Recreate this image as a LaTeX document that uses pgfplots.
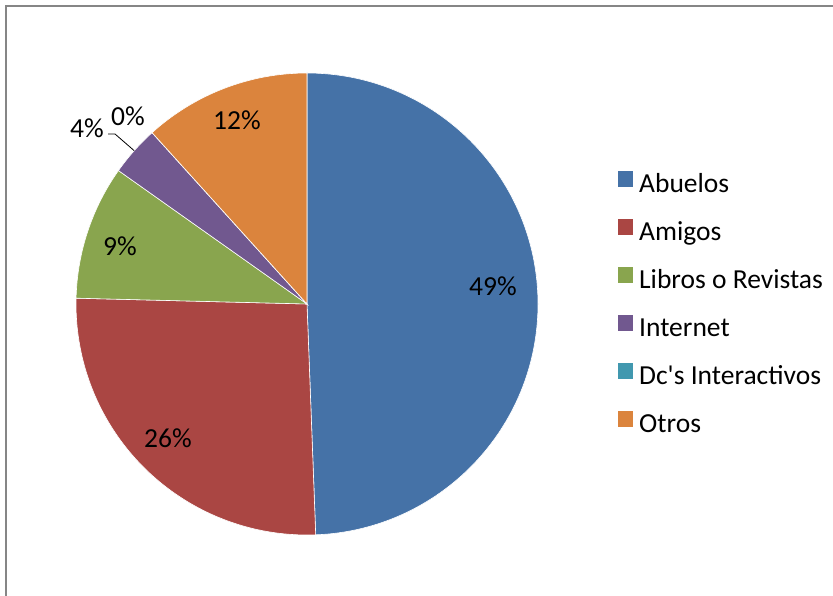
\documentclass[border=0pt]{standalone}
\usepackage{fontspec}
\setmainfont{Carlito}
\usepackage{pgfplots}
\usepackage{pgfplotstable}
\pgfplotsset{compat=1.18}
\usetikzlibrary{calc}
\definecolor{abuelos}{HTML}{4572A7}
\definecolor{amigos}{HTML}{AA4643}
\definecolor{libros}{HTML}{89A54E}
\definecolor{internet}{HTML}{71588F}
\definecolor{dcs}{HTML}{4198AF}
\definecolor{otros}{HTML}{DB843D}
\definecolor{frame}{HTML}{868686}
\newcommand\cf{\fontsize{27.5bp}{32bp}\selectfont}

% value = share of the circle, pct = printed label, lx/ly = label centre (picture px, y down)
\pgfplotstableread[col sep=comma]{
value,pct,lx,ly,leader,color
49.4,49,493,286,0,abuelos
26.0,26,168,438,0,amigos
9.4,9,120,246,0,libros
3.5,4,87,128,1,internet
0,0,128,116,0,dcs
11.7,12,237,120,0,otros
}\piedata

\begin{document}
\begin{tikzpicture}
\useasboundingbox (0,0) rectangle (833bp,596bp);
\begin{axis}[at={(0,0)}, anchor=south west, scale only axis,
  width=833bp, height=596bp, xmin=0, xmax=833, ymin=0, ymax=596,
  hide axis, clip=false,
  legend style={at={(axis cs:615,427)}, anchor=north west, draw=none, fill=none,
    font=\cf, column sep=6bp, row sep=20.5bp,
    nodes={inner sep=0pt, text height=18bp, text depth=6bp}},
  legend cell align=left,
  legend image code/.code={\fill[#1] (0bp,0bp) rectangle (15bp,15.5bp);}]
\addlegendimage{fill=abuelos, draw=none}\addlegendentry{Abuelos}
\addlegendimage{fill=amigos, draw=none}\addlegendentry{Amigos}
\addlegendimage{fill=libros, draw=none}\addlegendentry{Libros o Revistas}
\addlegendimage{fill=internet, draw=none}\addlegendentry{Internet}
\addlegendimage{fill=dcs, draw=none}\addlegendentry{Dc\textquotesingle s Interactivos}
\addlegendimage{fill=otros, draw=none}\addlegendentry{Otros}
\pgfplotsextra{
  \xdef\angA{90}
  \pgfplotstablegetrowsof{\piedata}
  \pgfmathtruncatemacro\lastrow{\pgfplotsretval-1}
  \foreach \i in {0,...,\lastrow}{
    \pgfplotstablegetelem{\i}{value}\of\piedata\let\val\pgfplotsretval
    \pgfplotstablegetelem{\i}{color}\of\piedata\let\col\pgfplotsretval
    \pgfmathsetmacro\angB{\angA-3.6*\val}
    \pgfmathsetmacro\angM{(\angA+\angB)/2}
    \fill[fill=\col, draw=white, line width=0.6bp] (axis cs:307,292) -- ++(\angA:231bp)
      arc[start angle=\angA, end angle=\angB, radius=231bp] -- cycle;
    \pgfplotstablegetelem{\i}{pct}\of\piedata\let\pct\pgfplotsretval
    \pgfplotstablegetelem{\i}{lx}\of\piedata\let\lx\pgfplotsretval
    \pgfplotstablegetelem{\i}{ly}\of\piedata\pgfmathsetmacro\ly{596-\pgfplotsretval}
    \pgfplotstablegetelem{\i}{leader}\of\piedata\let\lead\pgfplotsretval
    \node[font=\cf, inner sep=0pt] at (axis cs:\lx,\ly) {\pct\%};
    \ifnum\lead=1
      \draw[black, line width=0.8bp] (axis cs:\lx+21,\ly-6) -- (axis cs:\lx+28,\ly-6)
        -- ($(axis cs:307,292)+(\angM:231bp)$);
    \fi
    \xdef\angA{\angB}
  }
}
\end{axis}
\draw[frame, line width=1.6bp] (6bp,-20bp) -- (6bp,590bp) -- (860bp,590bp);
\end{tikzpicture}
\end{document}
